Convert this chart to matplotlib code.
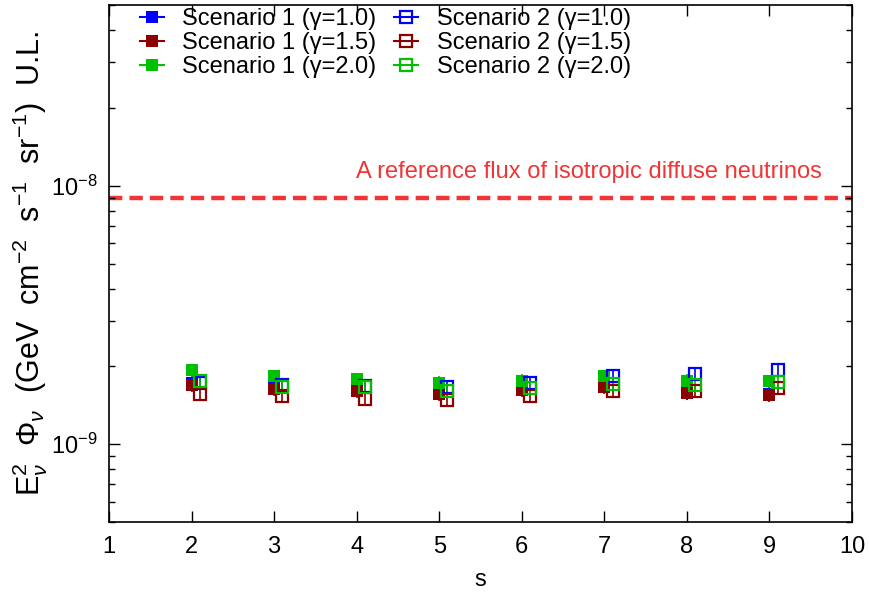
import matplotlib
matplotlib.use("Agg")
import matplotlib.pyplot as plt
from matplotlib.lines import Line2D
from matplotlib.ticker import LogLocator, NullFormatter, FixedLocator

plt.rcParams['font.family'] = ['Liberation Sans', 'DejaVu Sans']
plt.rcParams['mathtext.fontset'] = 'custom'
plt.rcParams['mathtext.rm'] = 'Liberation Sans'
plt.rcParams['mathtext.it'] = 'Liberation Sans:italic'
plt.rcParams['mathtext.sf'] = 'Liberation Sans'
plt.rcParams['axes.unicode_minus'] = False

# ---- data ----
s_values = [2, 3, 4, 5, 6, 7, 8, 9]
s2_offset = 0.1
labels_s1 = ["Scenario 1 (γ=1.0)", "Scenario 1 (γ=1.5)", "Scenario 1 (γ=2.0)"]
labels_s2 = ["Scenario 2 (γ=1.0)", "Scenario 2 (γ=1.5)", "Scenario 2 (γ=2.0)"]
colors = ["#0000ff", "#8b0000", "#00c000"]

s1_g10 = [1.73e-9, 1.65e-9, 1.67e-9, 1.64e-9, 1.67e-9, 1.71e-9, 1.58e-9, 1.57e-9]
s1_g15 = [1.70e-9, 1.63e-9, 1.61e-9, 1.56e-9, 1.62e-9, 1.66e-9, 1.58e-9, 1.55e-9]
s1_g20 = [1.93e-9, 1.83e-9, 1.78e-9, 1.73e-9, 1.76e-9, 1.83e-9, 1.76e-9, 1.75e-9]
s2_g10 = [1.72e-9, 1.69e-9, 1.68e-9, 1.67e-9, 1.73e-9, 1.84e-9, 1.87e-9, 1.93e-9]
s2_g15 = [1.57e-9, 1.53e-9, 1.50e-9, 1.48e-9, 1.53e-9, 1.61e-9, 1.61e-9, 1.65e-9]
s2_g20 = [1.75e-9, 1.67e-9, 1.66e-9, 1.61e-9, 1.65e-9, 1.71e-9, 1.70e-9, 1.74e-9]
rel_err = 0.06

reference_flux = 9.0e-9
reference_label = "A reference flux of isotropic diffuse neutrinos"

xlim = (1, 10)
ylim = (5e-10, 5e-8)

FS = 17

# ---- figure ----
W, H = 869, 601
fig = plt.figure(figsize=(W / 100, H / 100), dpi=100)
ax = fig.add_axes([109 / W, 1 - 522 / H, (852 - 109) / W, (522 - 5) / H])
ax.set_yscale('log')
ax.set_xlim(*xlim)
ax.set_ylim(*ylim)

red = "#ef3535"
ax.axhline(reference_flux, color=red, lw=3.2, ls=(0, (3, 1.6)), zorder=1)
fig.text(822 / W, 1 - 172 / H, reference_label, ha='right', va='center', color=red, fontsize=FS)

s1 = [s1_g10, s1_g15, s1_g20]
s2 = [s2_g10, s2_g15, s2_g20]
for vals, c in zip(s1, colors):
    ax.errorbar(s_values, vals, yerr=[v * rel_err for v in vals], fmt='s', color=c,
                ms=8.6, mew=0, elinewidth=1.2, capsize=0, zorder=3)
x2 = [s + s2_offset for s in s_values]
for vals, c in zip(s2, colors):
    ax.errorbar(x2, vals, yerr=[v * rel_err for v in vals], fmt='s', color=c,
                mfc='none', mec=c, ms=8.6, mew=1.6, elinewidth=1.2, capsize=0, zorder=4)

handles = []
for lab, c in zip(labels_s1, colors):
    handles.append(Line2D([], [], color=c, marker='s', ms=8, mew=0, lw=1.5, label=lab))
for lab, c in zip(labels_s2, colors):
    handles.append(Line2D([], [], color=c, marker='s', ms=8, mfc='none', mec=c, mew=1.6, lw=1.5, label=lab))

ax.legend(handles=handles, ncol=2, loc='upper left', frameon=False, fontsize=FS,
          handlelength=1.0, handletextpad=0.8, columnspacing=0.75, labelspacing=0.08,
          borderaxespad=0.0, borderpad=0.0, bbox_to_anchor=((140 - 109) / 743, 1 - 3 / 517))

# ticks
ax.xaxis.set_major_locator(FixedLocator(list(range(1, 11))))
ax.yaxis.set_major_locator(LogLocator(base=10, numticks=10))
ax.yaxis.set_minor_locator(LogLocator(base=10, subs=[2, 3, 4, 5, 6, 7, 8, 9], numticks=20))
ax.yaxis.set_minor_formatter(NullFormatter())
ax.tick_params(which='both', direction='in', top=True, right=True, labelsize=FS)
ax.tick_params(which='major', length=8, width=1)
ax.tick_params(which='minor', length=4, width=1)
ax.tick_params(axis='x', pad=10)
ax.tick_params(axis='y', pad=8)
for sp in ax.spines.values():
    sp.set_linewidth(1.2)

ax.set_xlabel("s", fontsize=FS, labelpad=8)
ax.set_ylabel(r"E$_\nu^2$  $\Phi_\nu$  (GeV  cm$^{-2}$  s$^{-1}$  sr$^{-1}$)  U.L.", fontsize=22)
ax.yaxis.set_label_coords(-(109 - 30) / 743, 0.5)
ax.yaxis.label.set_va('center')

fig.savefig("out.png", dpi=100)
